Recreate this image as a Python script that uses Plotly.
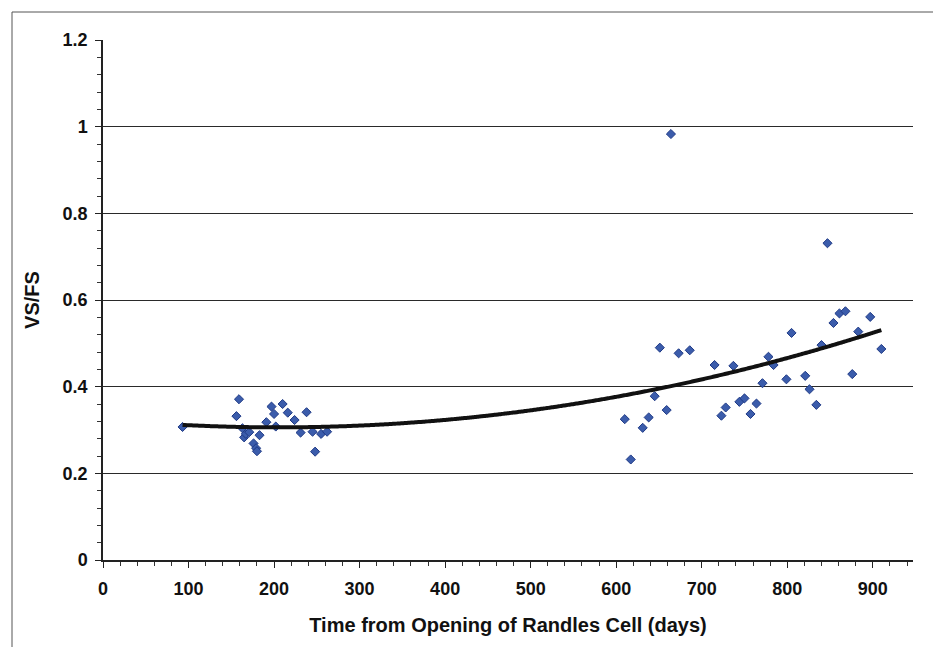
import numpy as np
import plotly.graph_objects as go

# Measured VS/FS ratio against days since the Randles Cell was opened
days = [93, 156, 159, 163, 165, 167, 171, 176, 179, 180, 183, 191, 197, 200,
        202, 210, 216, 224, 231, 238, 245, 248, 255, 262,
        610, 617, 631, 638, 645, 651, 659, 664, 673, 686, 715, 723, 728, 737,
        744, 750, 757, 764, 771, 778, 784, 799, 805, 821, 826, 834, 840, 847,
        854, 861, 868, 876, 883, 897, 910]
vs_fs = [0.307, 0.332, 0.371, 0.304, 0.283, 0.291, 0.295, 0.269, 0.258, 0.251,
         0.288, 0.318, 0.354, 0.337, 0.308, 0.360, 0.340, 0.323, 0.294, 0.341,
         0.296, 0.250, 0.291, 0.296,
         0.325, 0.232, 0.305, 0.329, 0.378, 0.490, 0.346, 0.983, 0.477, 0.484,
         0.450, 0.333, 0.352, 0.448, 0.365, 0.373, 0.337, 0.361, 0.408, 0.469,
         0.450, 0.417, 0.524, 0.425, 0.394, 0.358, 0.496, 0.731, 0.547, 0.569,
         0.574, 0.429, 0.527, 0.561, 0.487]

x_ticks = [0, 100, 200, 300, 400, 500, 600, 700, 800, 900]
y_ticks = [0, 0.2, 0.4, 0.6, 0.8, 1.0, 1.2]
y_tick_text = ["0", "0.2", "0.4", "0.6", "0.8", "1", "1.2"]

# second-order polynomial trend line through the data
coef = np.polyfit(days, vs_fs, 2)
trend_x = np.linspace(min(days), max(days), 300)
trend_y = np.polyval(coef, trend_x)

W, H = 933, 647
L, R, T, B = 103, 20, 40, 87
pw, ph = W - L - R, H - T - B

fig = go.Figure()
fig.add_trace(go.Scatter(
    x=days, y=vs_fs, mode="markers",
    marker=dict(symbol="diamond", size=7, color="#3b5cab",
                line=dict(color="#1f3a86", width=1)),
    showlegend=False))
fig.add_trace(go.Scatter(
    x=trend_x, y=trend_y, mode="lines",
    line=dict(color="#111111", width=4, shape="spline"),
    showlegend=False))

font = "Liberation Sans, Arial, sans-serif"
fig.update_layout(
    width=W, height=H,
    margin=dict(l=L, r=R, t=T, b=B),
    paper_bgcolor="white", plot_bgcolor="white",
    font=dict(family=font, color="#111111"),
    xaxis=dict(
        range=[0, 947], tickvals=x_ticks,
        ticks="outside", ticklen=6, tickcolor="#222", tickwidth=1,
        ticklabelstandoff=6,
        minor=dict(dtick=20, tick0=0, ticks="outside", ticklen=4,
                   tickcolor="#333", showgrid=False),
        showline=True, linecolor="#222", linewidth=1.5,
        showgrid=False, zeroline=False,
        tickfont=dict(size=18, family=font, weight="bold"),
        title=dict(text="<b>Time from Opening of Randles Cell (days)</b>",
                   font=dict(size=20, family=font), standoff=20),
    ),
    yaxis=dict(
        range=[0, 1.2], tickvals=y_ticks, ticktext=y_tick_text,
        ticks="outside", ticklen=6, tickcolor="#222", tickwidth=1,
        ticklabelstandoff=4,
        minor=dict(dtick=0.04, tick0=0, ticks="outside", ticklen=4,
                   tickcolor="#333", showgrid=False),
        showline=True, linecolor="#222", linewidth=1.5,
        showgrid=True, gridcolor="#2a2a2a", gridwidth=1,
        zeroline=False,
        tickfont=dict(size=18, family=font, weight="bold"),
        title=dict(text="<b>VS/FS</b>", font=dict(size=20, family=font),
                   standoff=18),
    ),
)

# thin outer frame around the chart
fig.add_shape(type="rect", xref="paper", yref="paper",
              x0=(12 - L) / pw, x1=(W + 20 - L) / pw,
              y0=(H - B - (H + 20)) / ph, y1=(H - B - 12) / ph,
              line=dict(color="#555555", width=1), layer="below")

fig.write_html("out.html")
